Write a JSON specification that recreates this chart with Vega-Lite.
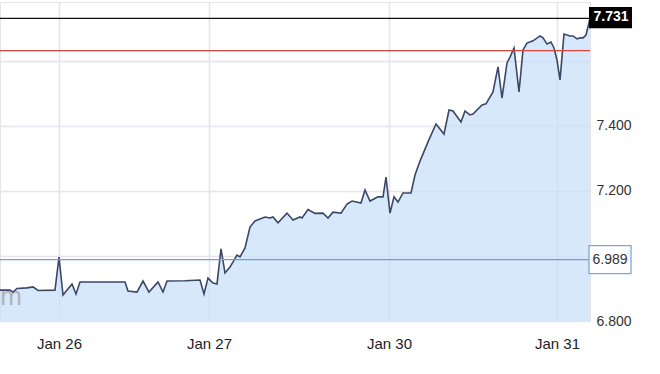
{
  "$schema": "https://vega.github.io/schema/vega-lite/v6.json",
  "width": 590,
  "height": 319,
  "autosize": "none",
  "padding": {"left": 0, "top": 2, "right": 70, "bottom": 53},
  "background": "white",
  "config": {
    "font": "Liberation Sans",
    "view": {"stroke": "#e4e4e8", "strokeWidth": 1}
  },
  "datasets": {
    "series": [
      {"t": 0, "v": 6.895}, {"t": 10, "v": 6.895}, {"t": 13, "v": 6.889}, {"t": 17, "v": 6.900},
      {"t": 27, "v": 6.902}, {"t": 33, "v": 6.905}, {"t": 38, "v": 6.894}, {"t": 55, "v": 6.895},
      {"t": 59, "v": 6.997}, {"t": 63, "v": 6.880}, {"t": 72, "v": 6.914}, {"t": 76, "v": 6.883},
      {"t": 80, "v": 6.920}, {"t": 125, "v": 6.920}, {"t": 128, "v": 6.892}, {"t": 137, "v": 6.889},
      {"t": 143, "v": 6.923}, {"t": 149, "v": 6.889}, {"t": 158, "v": 6.920}, {"t": 163, "v": 6.889},
      {"t": 167, "v": 6.923}, {"t": 185, "v": 6.924}, {"t": 200, "v": 6.926}, {"t": 204, "v": 6.883},
      {"t": 208, "v": 6.932}, {"t": 213, "v": 6.917}, {"t": 217, "v": 6.914}, {"t": 221, "v": 7.022},
      {"t": 225, "v": 6.948}, {"t": 230, "v": 6.966}, {"t": 237, "v": 7.003}, {"t": 240, "v": 6.997},
      {"t": 245, "v": 7.025}, {"t": 250, "v": 7.089}, {"t": 255, "v": 7.108}, {"t": 265, "v": 7.120},
      {"t": 270, "v": 7.117}, {"t": 273, "v": 7.120}, {"t": 278, "v": 7.102}, {"t": 287, "v": 7.132},
      {"t": 293, "v": 7.111}, {"t": 300, "v": 7.120}, {"t": 302, "v": 7.117}, {"t": 308, "v": 7.143},
      {"t": 315, "v": 7.131}, {"t": 323, "v": 7.132}, {"t": 328, "v": 7.117}, {"t": 333, "v": 7.135},
      {"t": 341, "v": 7.132}, {"t": 347, "v": 7.160}, {"t": 352, "v": 7.169}, {"t": 361, "v": 7.163},
      {"t": 365, "v": 7.203}, {"t": 370, "v": 7.169}, {"t": 378, "v": 7.182}, {"t": 383, "v": 7.182},
      {"t": 386, "v": 7.243}, {"t": 390, "v": 7.132}, {"t": 394, "v": 7.182}, {"t": 398, "v": 7.166},
      {"t": 403, "v": 7.194}, {"t": 411, "v": 7.194}, {"t": 415, "v": 7.249}, {"t": 420, "v": 7.292},
      {"t": 428, "v": 7.351}, {"t": 436, "v": 7.406}, {"t": 444, "v": 7.375}, {"t": 449, "v": 7.449},
      {"t": 453, "v": 7.446}, {"t": 461, "v": 7.412}, {"t": 465, "v": 7.446}, {"t": 470, "v": 7.434},
      {"t": 473, "v": 7.437}, {"t": 482, "v": 7.465}, {"t": 486, "v": 7.468}, {"t": 493, "v": 7.505},
      {"t": 498, "v": 7.582}, {"t": 502, "v": 7.486}, {"t": 507, "v": 7.594}, {"t": 510, "v": 7.612},
      {"t": 514, "v": 7.640}, {"t": 519, "v": 7.505}, {"t": 523, "v": 7.634}, {"t": 527, "v": 7.655},
      {"t": 533, "v": 7.662}, {"t": 540, "v": 7.677}, {"t": 543, "v": 7.671}, {"t": 547, "v": 7.652},
      {"t": 551, "v": 7.658}, {"t": 554, "v": 7.640}, {"t": 557, "v": 7.603}, {"t": 560, "v": 7.542},
      {"t": 564, "v": 7.683}, {"t": 570, "v": 7.677}, {"t": 573, "v": 7.677}, {"t": 577, "v": 7.668},
      {"t": 580, "v": 7.671}, {"t": 583, "v": 7.671}, {"t": 586, "v": 7.680}, {"t": 590, "v": 7.731}
    ],
    "levels": [
      {"name": "last", "level": 7.731, "label": "7.731"},
      {"name": "high", "level": 7.632, "label": ""},
      {"name": "ref", "level": 6.989, "label": "6.989"}
    ]
  },
  "layer": [
    {
      "data": {"name": "series"},
      "mark": {"type": "area", "color": "#c9e0fa", "opacity": 0.75, "clip": true},
      "encoding": {
        "x": {
          "field": "t", "type": "quantitative",
          "scale": {"domain": [0, 590], "nice": false, "zero": false},
          "axis": {
            "title": null, "values": [59, 209, 389, 557],
            "labelExpr": "datum.value == 59 ? 'Jan 26' : datum.value == 209 ? 'Jan 27' : datum.value == 389 ? 'Jan 30' : 'Jan 31'",
            "grid": true, "gridColor": "#e4e4ea", "gridWidth": 1.5,
            "domain": false, "ticks": false,
            "labelFontSize": 15, "labelColor": "#222222", "labelPadding": 15,
            "labelFlush": false
          }
        },
        "y": {
          "field": "v", "type": "quantitative",
          "scale": {"domain": [6.8, 7.7815], "nice": false, "zero": false},
          "axis": {
            "title": null, "orient": "right", "values": [6.8, 7.0, 7.2, 7.4, 7.6],
            "labelExpr": "abs(datum.value - 7) < 0.001 || abs(datum.value - 7.6) < 0.001 ? '' : format(datum.value, '.3f')",
            "grid": true, "gridColor": "#e4e4ea", "gridWidth": 1.5,
            "domain": false, "ticks": false,
            "labelFontSize": 14, "labelColor": "#333333", "labelPadding": 6,
            "labelFlush": false
          }
        },
        "y2": {"datum": 6.8}
      }
    },
    {
      "data": {"values": [{"mark": "m"}]},
      "mark": {"type": "text", "fontSize": 26, "color": "#a8a8a8", "align": "right", "baseline": "alphabetic", "opacity": 0.8},
      "encoding": {
        "x": {"datum": 22},
        "y": {"datum": 6.849},
        "text": {"field": "mark"}
      }
    },
    {
      "data": {"name": "series"},
      "mark": {"type": "line", "color": "#3b4768", "strokeWidth": 1.6, "clip": true},
      "encoding": {
        "x": {"field": "t", "type": "quantitative"},
        "y": {"field": "v", "type": "quantitative"}
      }
    },
    {
      "data": {"name": "levels"},
      "mark": {"type": "rule", "strokeWidth": 1.3},
      "encoding": {
        "y": {"field": "level", "type": "quantitative"},
        "color": {
          "field": "name", "type": "nominal", "legend": null,
          "scale": {"domain": ["last", "high", "ref"], "range": ["#111111", "#d9443f", "#6f9fd6"]}
        }
      }
    },
    {
      "data": {"values": [{"box": "last", "lo": 7.701, "hi": 7.766}]},
      "mark": {"type": "rect", "color": "#000000"},
      "encoding": {
        "x": {"datum": 589}, "x2": {"datum": 632},
        "y": {"field": "hi", "type": "quantitative"}, "y2": {"field": "lo"}
      }
    },
    {
      "data": {"values": [{"box": "ref", "lo": 6.946, "hi": 7.0317}]},
      "mark": {"type": "rect", "fill": "white", "stroke": "#7ea7d8", "strokeWidth": 1.3},
      "encoding": {
        "x": {"datum": 589}, "x2": {"datum": 631},
        "y": {"field": "hi", "type": "quantitative"}, "y2": {"field": "lo"}
      }
    },
    {
      "data": {"values": [{"label": "7.731", "level": 7.734}]},
      "mark": {"type": "text", "color": "white", "fontWeight": "bold", "fontSize": 14, "align": "center", "baseline": "middle"},
      "encoding": {
        "x": {"datum": 611},
        "y": {"field": "level", "type": "quantitative"},
        "text": {"field": "label"}
      }
    },
    {
      "data": {"values": [{"label": "6.989", "level": 6.989}]},
      "mark": {"type": "text", "color": "#333333", "fontSize": 14, "align": "center", "baseline": "middle"},
      "encoding": {
        "x": {"datum": 610},
        "y": {"field": "level", "type": "quantitative"},
        "text": {"field": "label"}
      }
    }
  ]
}
